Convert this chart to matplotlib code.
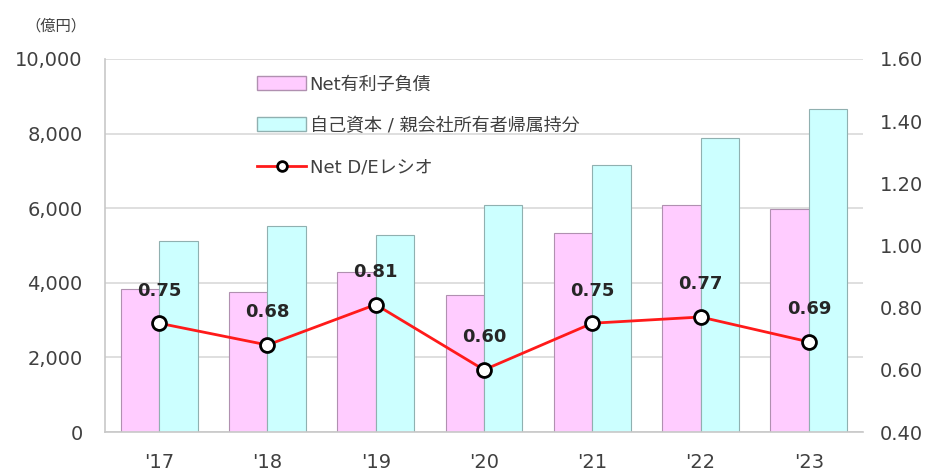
import matplotlib
matplotlib.use("Agg")
import matplotlib.pyplot as plt
from matplotlib.lines import Line2D
from matplotlib.patches import Patch
import numpy as np

plt.rcParams['font.family'] = ['DejaVu Sans', 'Noto Sans CJK JP']

years = ["'17", "'18", "'19", "'20", "'21", "'22", "'23"]
net_debt = [3830, 3750, 4290, 3670, 5330, 6090, 5980]
equity = [5120, 5520, 5280, 6090, 7160, 7880, 8660]
de_ratio = [0.75, 0.68, 0.81, 0.60, 0.75, 0.77, 0.69]
left_ticks = [0, 2000, 4000, 6000, 8000, 10000]
right_ticks = [0.40, 0.60, 0.80, 1.00, 1.20, 1.40, 1.60]

pink = '#ffccff'
cyan = '#ccffff'
txt = '#404040'

fig = plt.figure(figsize=(9.26, 4.72), dpi=100)
ax = fig.add_axes([0.1134, 0.0847, 0.8186, 0.7903])
x = np.arange(len(years))
w = 0.355
ax.bar(x - w / 2, net_debt, w, color=pink, edgecolor='#b090b0', linewidth=0.8, zorder=2)
ax.bar(x + w / 2, equity, w, color=cyan, edgecolor='#90b0b0', linewidth=0.8, zorder=2)
ax.set_xlim(-0.5, len(years) - 0.5)
ax.set_ylim(0, 10000)
ax.set_yticks(left_ticks)
ax.set_yticklabels([f"{v:,}" for v in left_ticks], fontsize=14, color=txt)
ax.set_xticks(x)
ax.set_xticklabels(years, fontsize=14, color=txt)
ax.tick_params(axis='y', length=0, pad=16)
ax.tick_params(axis='x', length=0, pad=15)
ax.grid(axis='y', color='#d9d9d9', linewidth=1.2, zorder=0)
ax.set_axisbelow(True)
for s in ['top', 'right']:
    ax.spines[s].set_visible(False)
ax.spines['left'].set_color('#c8c8c8')
ax.spines['bottom'].set_color('#c8c8c8')
ax.spines['left'].set_linewidth(1.2)
ax.spines['bottom'].set_linewidth(1.2)

ax2 = ax.twinx()
ax2.set_ylim(0.4, 1.6)
ax2.set_yticks(right_ticks)
ax2.set_yticklabels([f"{v:.2f}" for v in right_ticks], fontsize=14, color=txt)
ax2.tick_params(axis='y', length=0, pad=12)
for s in ['top', 'right', 'left', 'bottom']:
    ax2.spines[s].set_visible(False)
ax2.plot(x, de_ratio, color='#ff1a1a', linewidth=2, marker='o', markersize=10,
         markerfacecolor='white', markeredgecolor='black', markeredgewidth=2, zorder=5)
for xi, v in zip(x, de_ratio):
    ax2.annotate(f"{v:.2f}", (xi, v), xytext=(0, 17), textcoords='offset points',
                 ha='center', va='bottom', fontsize=13, fontweight='bold', color='#262626')

handles = [Patch(facecolor=pink, edgecolor='#b090b0'),
           Patch(facecolor=cyan, edgecolor='#90b0b0'),
           Line2D([0], [0], color='#ff1a1a', linewidth=2, marker='o', markersize=7,
                  markerfacecolor='white', markeredgecolor='black', markeredgewidth=2)]
labels = ['Net有利子負債', '自己資本 / 親会社所有者帰属持分', 'Net D/Eレシオ']
leg = ax2.legend(handles, labels, loc='upper left', bbox_to_anchor=(0.177, 1.005),
                 frameon=False, fontsize=13, labelspacing=1.3, handlelength=2.7,
                 handleheight=0.8, handletextpad=0.2, borderaxespad=0.6)
for t in leg.get_texts():
    t.set_color(txt)

fig.text(0.027, 0.945, '（億円）', fontsize=11, color=txt, ha='left', va='center',
         family=['Noto Sans CJK JP'])

fig.savefig('out.png', dpi=100)
